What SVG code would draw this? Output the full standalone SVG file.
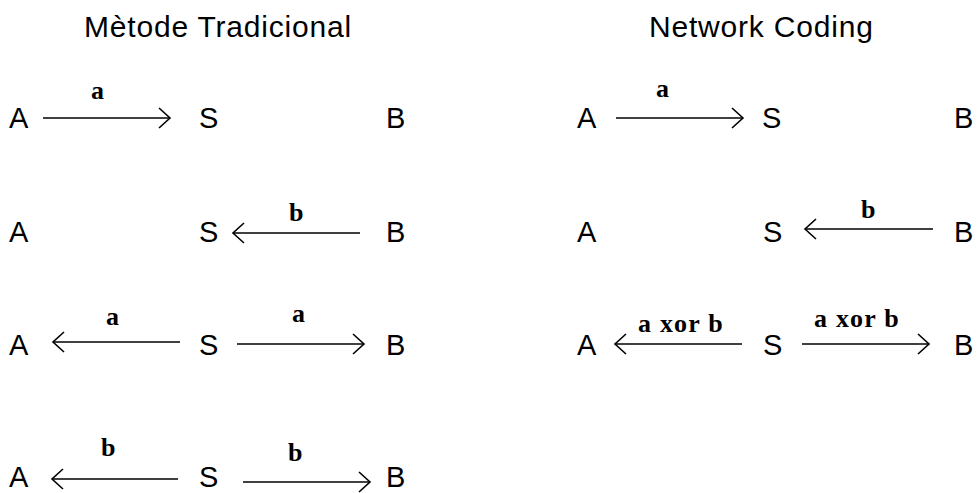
<svg xmlns="http://www.w3.org/2000/svg" width="978" height="493" viewBox="0 0 978 493">
<style>
.t{font-family:"Liberation Sans",Arial,sans-serif;font-size:30px;letter-spacing:0.8px;fill:#000}
.n{font-family:"Liberation Sans",Arial,sans-serif;font-size:29px;fill:#000}
.l{font-family:"Liberation Serif","Times New Roman",serif;font-size:26px;font-weight:bold;letter-spacing:1.2px;fill:#000}
.c{stroke:#000;stroke-width:1.6;fill:none}
</style>
<defs>
<marker id="ah" viewBox="-13 -12 15 24" markerWidth="15" markerHeight="24" refX="0" refY="0" orient="auto" markerUnits="userSpaceOnUse">
<path d="M-11,-10 L0,0 L-11,10" fill="none" stroke="#000" stroke-width="1.6"/>
</marker>
</defs>
<rect width="978" height="493" fill="#fff"/>
<g id="titles">
<text class="t" x="84" y="37">Mètode Tradicional</text>
<text class="t" x="649" y="37">Network Coding</text>
</g>
<!-- Left column nodes -->
<g id="L1"><text class="n" x="9" y="128">A</text><text class="n" x="199" y="128">S</text><text class="n" x="386" y="128">B</text></g>
<g id="L2"><text class="n" x="9" y="242">A</text><text class="n" x="199" y="242">S</text><text class="n" x="386" y="242">B</text></g>
<g id="L3"><text class="n" x="9" y="355">A</text><text class="n" x="199" y="355">S</text><text class="n" x="386" y="355">B</text></g>
<g id="L4"><text class="n" x="9" y="487">A</text><text class="n" x="199" y="487">S</text><text class="n" x="386" y="487">B</text></g>
<!-- Right column nodes -->
<g id="R1"><text class="n" x="577" y="128">A</text><text class="n" x="762" y="128">S</text><text class="n" x="954" y="128">B</text></g>
<g id="R2"><text class="n" x="577" y="242">A</text><text class="n" x="763" y="242">S</text><text class="n" x="954" y="242">B</text></g>
<g id="R3"><text class="n" x="577" y="355">A</text><text class="n" x="763" y="355">S</text><text class="n" x="954" y="355">B</text></g>
<g id="connectors">
<line class="c" x1="43" y1="118" x2="170" y2="118" marker-end="url(#ah)"/>
<text class="l" x="91" y="99">a</text>
<line class="c" x1="360" y1="233" x2="233" y2="233" marker-end="url(#ah)"/>
<text class="l" x="289" y="221">b</text>
<line class="c" x1="180" y1="342" x2="53" y2="342" marker-end="url(#ah)"/>
<text class="l" x="106" y="325">a</text>
<line class="c" x1="237" y1="344" x2="364" y2="344" marker-end="url(#ah)"/>
<text class="l" x="292" y="322">a</text>
<line class="c" x1="178" y1="479" x2="52" y2="479" marker-end="url(#ah)"/>
<text class="l" x="101" y="456">b</text>
<line class="c" x1="243" y1="482" x2="370" y2="482" marker-end="url(#ah)"/>
<text class="l" x="288" y="461">b</text>
<line class="c" x1="616" y1="118" x2="743" y2="118" marker-end="url(#ah)"/>
<text class="l" x="656" y="97">a</text>
<line class="c" x1="933" y1="229" x2="805" y2="229" marker-end="url(#ah)"/>
<text class="l" x="861" y="218">b</text>
<line class="c" x1="742" y1="344" x2="615" y2="344" marker-end="url(#ah)"/>
<text class="l" x="638" y="332">a xor b</text>
<line class="c" x1="802" y1="344" x2="929" y2="344" marker-end="url(#ah)"/>
<text class="l" x="814" y="327">a xor b</text>
</g>
</svg>
